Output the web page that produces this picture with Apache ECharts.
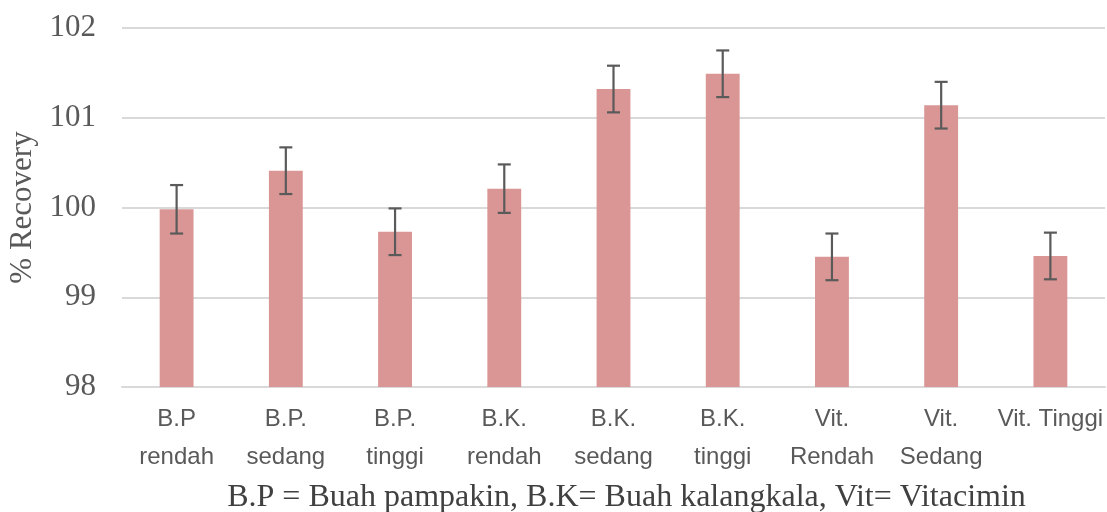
<!DOCTYPE html>
<html>
<head>
<meta charset="utf-8">
<script src="https://cdn.jsdelivr.net/npm/echarts@6/dist/echarts.min.js"></script>
<style>html,body{margin:0;padding:0;background:#fff}#c{width:1107px;height:512px}</style>
</head>
<body>
<div id="c"></div>
<script>
const categories = ['B.P\nrendah','B.P.\nsedang','B.P.\ntinggi','B.K.\nrendah','B.K.\nsedang','B.K.\ntinggi','Vit.\nRendah','Vit.\nSedang','Vit. Tinggi'];
const recovery = [99.98, 100.41, 99.73, 100.21, 101.32, 101.49, 99.45, 101.14, 99.46];
const errors = [0.27, 0.26, 0.26, 0.27, 0.26, 0.26, 0.26, 0.26, 0.26];
const yTicks = [98, 99, 100, 101, 102];

const chart = echarts.init(document.getElementById('c'), null, {renderer:'canvas'});
const errData = recovery.map((v,i)=>[i, v - errors[i], v + errors[i]]);
chart.setOption({
  animation:false,
  backgroundColor:'#fff',
  grid:{left:122, right:2, top:28, bottom:125, containLabel:false, outerBoundsMode:'none'},
  xAxis:{
    type:'category', data:categories,
    axisLine:{show:true, lineStyle:{color:'#d9d9d9', width:2}},
    axisTick:{show:false},
    axisLabel:{color:'#595959', fontFamily:'Liberation Sans Narrow, Liberation Sans, sans-serif', fontSize:24, lineHeight:38, margin:13, interval:0},
    name:'B.P = Buah pampakin, B.K= Buah kalangkala, Vit= Vitacimin',
    nameLocation:'middle', nameGap:95,
    nameTextStyle:{color:'#404040', fontFamily:'Liberation Serif, Times New Roman, serif', fontSize:32, padding:[0,0,0,26]}
  },
  yAxis:{
    type:'value', min:yTicks[0], max:yTicks[yTicks.length-1], interval:1,
    axisLine:{show:false}, axisTick:{show:false},
    splitLine:{lineStyle:{color:'#d9d9d9', width:2}},
    axisLabel:{color:'#595959', fontFamily:'Liberation Serif, Times New Roman, serif', fontSize:31, margin:26},
    name:'% Recovery', nameLocation:'middle', nameGap:78,
    nameTextStyle:{color:'#595959', fontFamily:'Liberation Serif, Times New Roman, serif', fontSize:31}
  },
  series:[
    {type:'bar', data:recovery, barWidth:'31%', itemStyle:{color:'#D99694'}, z:2},
    {type:'custom', data:errData, z:3,
      renderItem:function(params, api){
        const x = api.value(0);
        const lo = api.coord([x, api.value(1)]);
        const hi = api.coord([x, api.value(2)]);
        const hw = 6.5;
        const st = {stroke:'#5a5a5a', lineWidth:2.2};
        return {type:'group', children:[
          {type:'line', shape:{x1:lo[0], y1:lo[1], x2:hi[0], y2:hi[1]}, style:st},
          {type:'line', shape:{x1:lo[0]-hw, y1:lo[1], x2:lo[0]+hw, y2:lo[1]}, style:st},
          {type:'line', shape:{x1:hi[0]-hw, y1:hi[1], x2:hi[0]+hw, y2:hi[1]}, style:st}
        ]};
      }
    }
  ]
});
</script>
</body>
</html>
